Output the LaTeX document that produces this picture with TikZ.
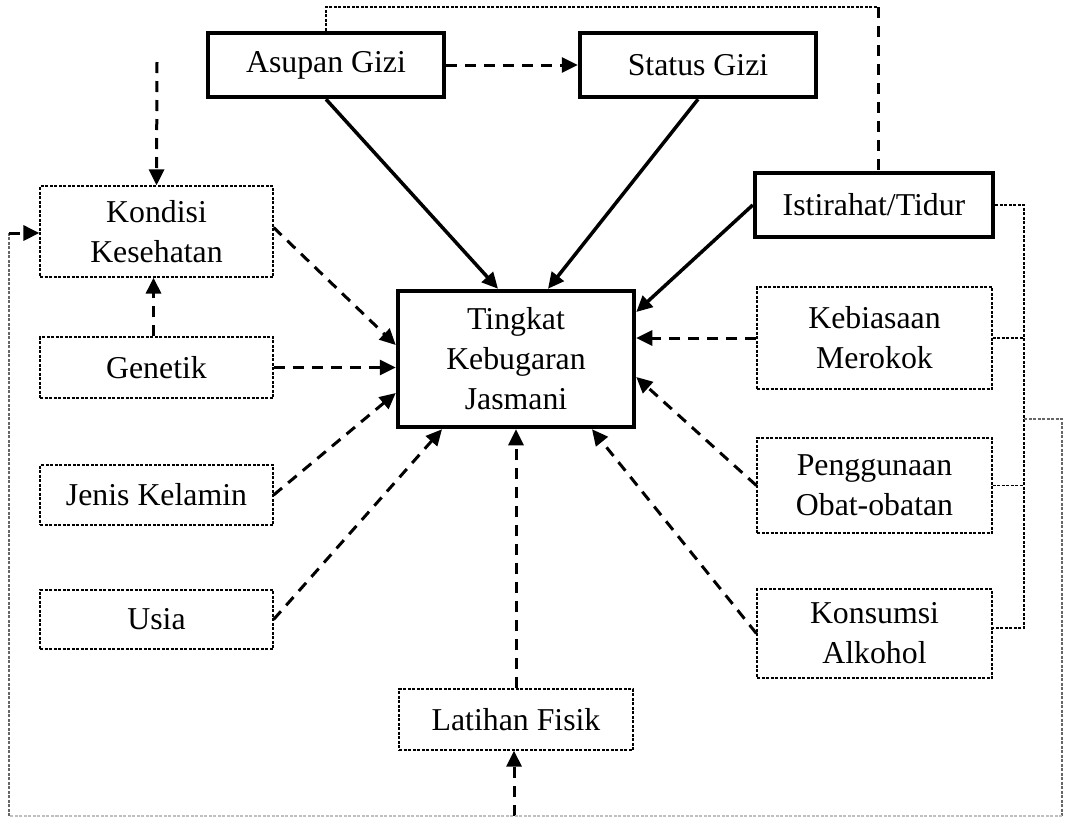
\documentclass[tikz,border=0pt]{standalone}
\usepackage{fontspec}
\setmainfont{Liberation Serif}
\usetikzlibrary{arrows.meta,calc}
\begin{document}
\begin{tikzpicture}[x=1pt,y=-1pt,
  every node/.style={font=\fontsize{31.8}{40}\selectfont, align=center, inner sep=0pt},
  mainbox/.style={draw, line width=4.5pt, rectangle},
  subbox/.style={draw, line width=1.2pt, dash pattern=on 3pt off 1.5pt, rectangle},
  tip/.style={-{Triangle[length=16pt,width=15pt]}},
  solidarr/.style={tip, line width=3.5pt},
  dasharr/.style={tip, line width=3pt, dash pattern=on 11pt off 8pt},
  thinline/.style={line width=1.2pt, dash pattern=on 3pt off 1.5pt},
  thickdash/.style={line width=3pt, dash pattern=on 11pt off 8pt}
]
\useasboundingbox (0,0) rectangle (1067,817);

% main boxes
\node[mainbox, minimum width=236, minimum height=64] (asupan) at (326,65) {Asupan Gizi};
\node[mainbox, minimum width=236, minimum height=64] (status) at (698,65) {Status Gizi};
\node[mainbox, minimum width=238, minimum height=64] (istirahat) at (874,205) {Istirahat/Tidur};
\node[mainbox, minimum width=236, minimum height=136] (central) at (516,359) {Tingkat\\Kebugaran\\Jasmani};

% dashed boxes
\node[subbox, minimum width=233, minimum height=91] (kondisi) at (156.5,231.5) {Kondisi\\Kesehatan};
\node[subbox, minimum width=233, minimum height=61] (genetik) at (156.5,367.5) {Genetik};
\node[subbox, minimum width=233, minimum height=60] (jenis) at (156.5,495) {Jenis Kelamin};
\node[subbox, minimum width=233, minimum height=59] (usia) at (156.5,619.5) {Usia};
\node[subbox, minimum width=234, minimum height=61] (latihan) at (516,719.5) {Latihan Fisik};
\node[subbox, minimum width=235, minimum height=102] (kebiasaan) at (874.5,338) {Kebiasaan\\Merokok};
\node[subbox, minimum width=235, minimum height=95] (penggunaan) at (874.5,485.5) {Penggunaan\\Obat-obatan};
\node[subbox, minimum width=235, minimum height=89] (konsumsi) at (874.5,633.5) {Konsumsi\\Alkohol};

% free-end coordinates
\coordinate (topsrc) at (157,62);
\coordinate (botsrc) at (514,816);
\coordinate (tl) at (326,7);
\coordinate (tr) at (878,7);
\coordinate (br1) at (1024,205);
\coordinate (br2) at (1024,628);
\coordinate (brm) at (1024,419);
\coordinate (rr) at (1062,419);
\coordinate (rb) at (1062,816);
\coordinate (lb) at (9,816);
\coordinate (lt) at (9,233);

% solid arrows
\draw[solidarr] (asupan.south) -- ([xshift=-18pt]central.north);
\draw[solidarr] (status.south) -- ([xshift=32pt]central.north);
\draw[solidarr] (istirahat.west) -- ([yshift=47pt]central.east);

% dashed arrows
\draw[dasharr] (asupan.east) -- (status.west);
\draw[dasharr] (kebiasaan.west) -- (central.east |- kebiasaan.west);
\draw[dasharr] (penggunaan.west) -- ([yshift=-18pt]central.east);
\draw[dasharr] (konsumsi.west) -- ([xshift=76pt]central.south);
\draw[dasharr] (latihan.north) -- (central.south);
\draw[dasharr] ([yshift=4pt]kondisi.east) -- ([yshift=14pt]central.west);
\draw[dasharr] (genetik.east) -- (central.west |- genetik.east);
\draw[dasharr] (jenis.east) -- ([yshift=-34pt]central.west);
\draw[dasharr] (usia.east) -- ([xshift=-74pt]central.south);
\draw[dasharr] (topsrc) -- (kondisi.north);
\draw[dasharr] ([xshift=-3pt]genetik.north) -- ([xshift=-3pt]kondisi.south);
\draw[dasharr] (botsrc) -- ([xshift=-2pt]latihan.south);

% feedback lines
\draw[thinline] (asupan.north) -- (tl) -- (tr);
\draw[thickdash] (tr) -- (istirahat.north -| tr);
\draw[thinline] (istirahat.east) -- (br1) -- (br2) -- (konsumsi.east |- br2);
\draw[thinline] (kebiasaan.east) -- (kebiasaan.east -| br1);
\draw[thinline] (penggunaan.east) -- (penggunaan.east -| br1);
\draw[thinline, gray!80!black] (brm) -- (rr) -- (rb);
\draw[thinline, gray!50] (rb) -- (lb);
\draw[thinline, gray!80!black] (lb) -- (lt);
\draw[dasharr] (lt) -- (kondisi.west |- lt);
\end{tikzpicture}
\end{document}
